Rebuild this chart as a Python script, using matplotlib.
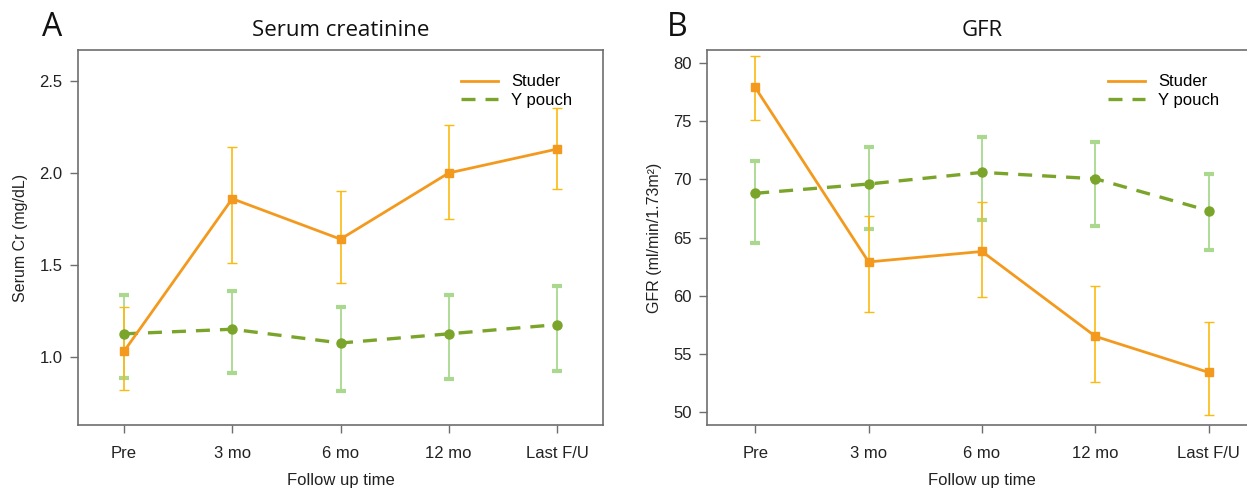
import matplotlib
matplotlib.use("Agg")
import matplotlib.pyplot as plt
import numpy as np

# ---------------- data ----------------
timepoints = ["Pre", "3 mo", "6 mo", "12 mo", "Last F/U"]

cr_studer_mean = [1.03, 1.86, 1.64, 2.00, 2.13]
cr_studer_low = [0.82, 1.51, 1.40, 1.75, 1.915]
cr_studer_high = [1.27, 2.14, 1.90, 2.26, 2.355]

cr_ypouch_mean = [1.125, 1.15, 1.075, 1.125, 1.175]
cr_ypouch_low = [0.887, 0.913, 0.813, 0.878, 0.922]
cr_ypouch_high = [1.336, 1.36, 1.269, 1.336, 1.385]

gfr_studer_mean = [77.9, 62.9, 63.8, 56.5, 53.4]
gfr_studer_low = [75.1, 58.6, 59.9, 52.6, 49.7]
gfr_studer_high = [80.6, 66.85, 68.05, 60.8, 57.75]

gfr_ypouch_mean = [68.8, 69.6, 70.6, 70.05, 67.3]
gfr_ypouch_low = [64.55, 65.7, 66.5, 66.0, 63.9]
gfr_ypouch_high = [71.6, 72.8, 73.6, 73.2, 70.45]

cr_yticks = [1.0, 1.5, 2.0, 2.5]
gfr_yticks = [50, 55, 60, 65, 70, 75, 80]

# ---------------- style ----------------
ORANGE_LINE = "#F39A1E"
ORANGE_ERR = "#FBBA12"
GREEN_LINE = "#7AA52A"
GREEN_ERR = "#A9D88E"
SPINE = "#6E6E6E"
SANS = ["Liberation Sans", "DejaVu Sans"]
TITLE_FONT = ["Open Sans", "DejaVu Sans"]

plt.rcParams["font.family"] = SANS

W, H = 1247, 488
fig = plt.figure(figsize=(W / 100, H / 100), dpi=100)


def px_axes(left, right, top, bottom):
    return fig.add_axes([left / W, 1 - bottom / H, (right - left) / W, (bottom - top) / H])


def draw_panel(ax, studer, ypouch, ylim, yticks, ylabel, title, letter, letter_x):
    x = np.arange(len(timepoints))
    sm, sl, sh = [np.array(v) for v in studer]
    ym, yl, yh = [np.array(v) for v in ypouch]

    # Y pouch
    ax.errorbar(x, ym, yerr=[ym - yl, yh - ym], fmt="none", ecolor=GREEN_ERR,
                elinewidth=1.3, capsize=3.3, capthick=3.0, zorder=2)
    ax.plot(x, ym, color=GREEN_LINE, lw=2.4, ls=(0, (4.2, 3.0)), zorder=4,
            label="Y pouch")
    ax.plot(x, ym, ls="none", marker="o", ms=6.5, color=GREEN_LINE, zorder=5)

    # Studer
    ax.errorbar(x, sm, yerr=[sm - sl, sh - sm], fmt="none", ecolor=ORANGE_ERR,
                elinewidth=1.2, capsize=3.6, capthick=1.0, zorder=3)
    ax.plot(x, sm, color=ORANGE_LINE, lw=2.0, zorder=4, label="Studer")
    ax.plot(x, sm, ls="none", marker="s", ms=6, color=ORANGE_LINE, zorder=5)

    ax.set_xlim(-0.425, len(timepoints) - 1 + 0.425)
    ax.set_ylim(*ylim)
    ax.set_xticks(x)
    ax.set_xticklabels(timepoints)
    ax.set_yticks(yticks)
    ax.set_yticklabels([("%g" % t if isinstance(t, int) else "%.1f" % t) for t in yticks])

    for s in ax.spines.values():
        s.set_color(SPINE)
        s.set_linewidth(1.2)
    ax.tick_params(axis="both", direction="out", length=6, width=1.0, color=SPINE,
                   labelsize=12, labelcolor="#222222")
    ax.tick_params(axis="x", pad=9)
    ax.tick_params(axis="y", pad=5)

    ax.set_xlabel("Follow up time", fontsize=12, color="#222222", labelpad=9)
    ax.set_ylabel(ylabel, fontsize=11.5, color="#222222", labelpad=8)
    ax.set_title(title, fontsize=16, family=TITLE_FONT, pad=10, color="#111111")

    handles, labels = ax.get_legend_handles_labels()
    order = [labels.index("Studer"), labels.index("Y pouch")]
    ax.legend([handles[i] for i in order], [labels[i] for i in order],
              loc="upper left", bbox_to_anchor=(0.73, 0.935), frameon=False,
              borderpad=0, borderaxespad=0, fontsize=12, handlelength=2.2,
              handletextpad=0.8, labelspacing=0.2)

    fig.text(letter_x / W, 1 - 28 / H, letter, fontsize=23, family=TITLE_FONT,
             ha="center", va="center", color="#111111")


ax1 = px_axes(78, 603, 50, 425)
draw_panel(ax1,
           (cr_studer_mean, cr_studer_low, cr_studer_high),
           (cr_ypouch_mean, cr_ypouch_low, cr_ypouch_high),
           (0.629, 2.669), cr_yticks, "Serum Cr (mg/dL)", "Serum creatinine", "A", 52)

ax2 = px_axes(707, 1257, 50, 425)
draw_panel(ax2,
           (gfr_studer_mean, gfr_studer_low, gfr_studer_high),
           (gfr_ypouch_mean, gfr_ypouch_low, gfr_ypouch_high),
           (48.88, 81.12), gfr_yticks, "GFR (ml/min/1.73m²)", "GFR", "B", 677)

fig.savefig("out.png", dpi=100)
